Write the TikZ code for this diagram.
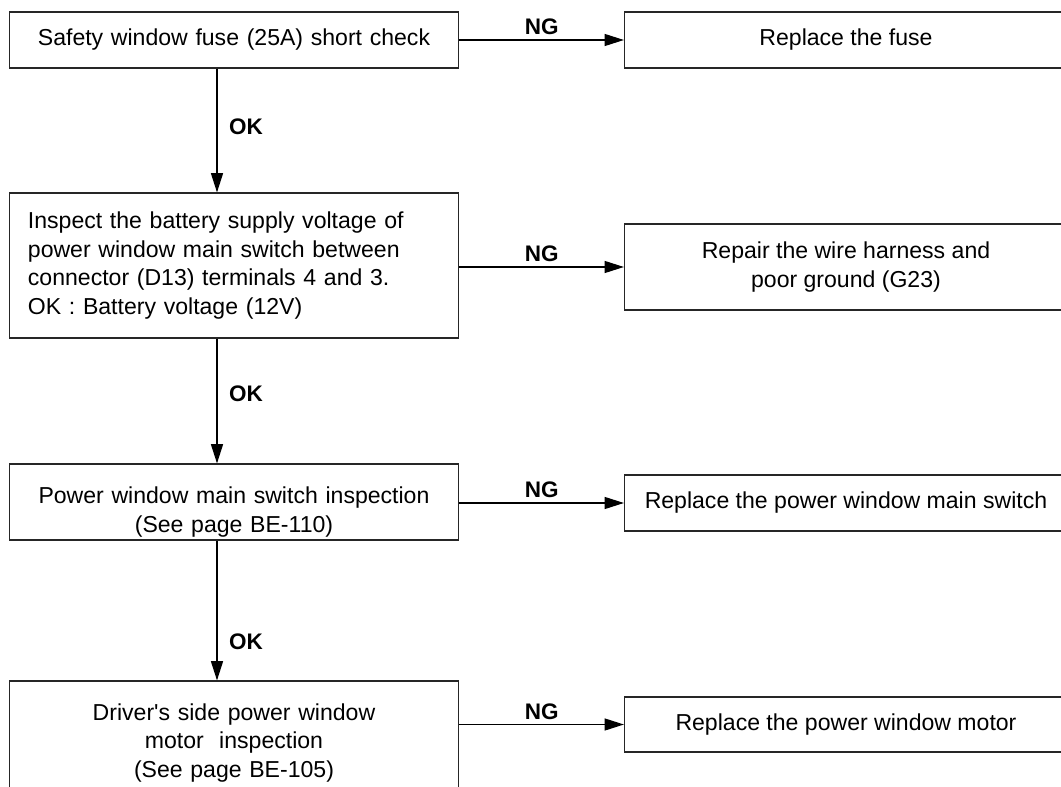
\documentclass[tikz,border=0pt]{standalone}
\usepackage{fontspec}
\setmainfont{Liberation Sans}
\usetikzlibrary{arrows.meta, positioning}

\begin{document}
\begin{tikzpicture}[
            x=0.025cm, y=-0.025cm,
            check/.style={rectangle, draw=black!85, line width=0.8pt, text width=10.3cm, inner xsep=0.47cm, align=center, font=\fontsize{16.4}{20.2}\selectfont},
            remedy/.style={rectangle, draw=black!85, line width=0.8pt, minimum width=11.075cm, align=center, font=\fontsize{16.4}{20.2}\selectfont},
            flow/.style={draw=black, line width=0.8pt, -{Triangle[length=0.48cm, width=0.3cm]}},
            tag/.style={font=\fontsize{16}{20}\selectfont\bfseries}
        ]
            \useasboundingbox (0,0) rectangle (1061,787);
            \clip (0,0) rectangle (1061,787);
            % left column: checks
            \node[check, minimum height=1.4cm] (fuse) at (234,40) {Safety window fuse (25A) short check};
            \node[check, align=left, minimum height=3.625cm] (supply) at (234,265.5) {Inspect the battery supply voltage of\\power window main switch between\\connector (D13) terminals 4 and 3.\\OK : Battery voltage (12V)};
            \node[check, inner ysep=0.05cm, minimum height=1.9cm] (switch) at (234,502) {\rule{0pt}{26pt}Power window main switch inspection\\(See page BE-110)};
            \node[check, minimum height=3.1cm] (motor) at (234,743) {Driver\textquotesingle s side power window\\motor\ \ inspection\\(See page BE-105)};
            % right column: remedies
            \node[remedy, minimum height=1.4cm] (newfuse) at (846,40) {Replace the fuse};
            \node[remedy, minimum height=2.15cm] (harness) at (846,267) {Repair the wire harness and\\poor ground (G23)};
            \node[remedy, minimum height=1.4cm] (newswitch) at (846,503) {Replace the power window main switch};
            \node[remedy, minimum height=1.375cm] (newmotor) at (846,724.5) {Replace the power window motor};
            \coordinate (spine) at (217,0);
            % OK path
            \draw[flow] (fuse.south -| spine) -- node[tag, right=0.17cm, pos=0.47] {OK} (supply.north -| spine);
            \draw[flow] (supply.south -| spine) -- node[tag, right=0.17cm, pos=0.44] {OK} (switch.north -| spine);
            \draw[flow] (switch.south -| spine) -- node[tag, right=0.17cm, pos=0.72] {OK} (motor.north -| spine);
            % NG path
            \draw[flow] (newfuse.west -| fuse.east) -- node[tag, above] {NG} (newfuse.west);
            \draw[flow] (harness.west -| supply.east) -- node[tag, above] {NG} (harness.west);
            \draw[flow] (newswitch.west -| switch.east) -- node[tag, above] {NG} (newswitch.west);
            \draw[flow] (newmotor.west -| motor.east) -- node[tag, above] {NG} (newmotor.west);
        \end{tikzpicture}
\end{document}
